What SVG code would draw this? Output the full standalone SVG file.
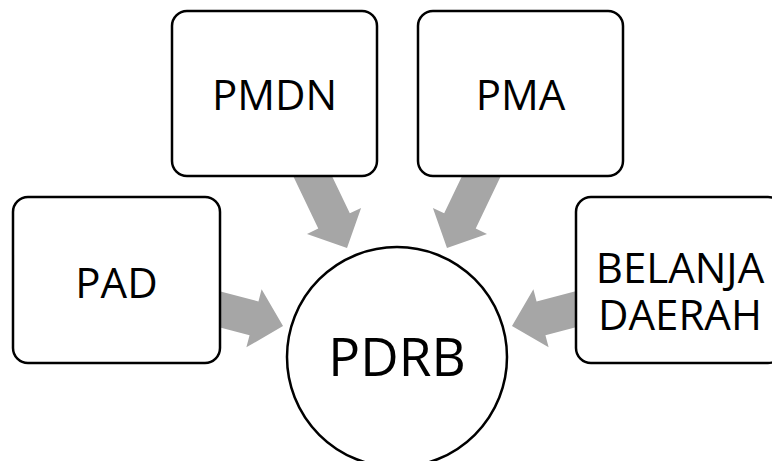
<svg xmlns="http://www.w3.org/2000/svg" width="772" height="461" viewBox="0 0 772 461">
<style>
.box{fill:#fff;stroke:#000;stroke-width:2.5}
.arr{fill:#A6A6A6}
text{font-family:"Open Sans","Noto Sans",sans-serif;fill:#000;text-anchor:middle}
.t{font-size:42px}
.big{font-size:53px}
</style>
<defs>
<path id="a85" d="M0,-17.5 L55,-17.5 L55,-30 L85,0 L55,30 L55,17.5 L0,17.5 Z"/>
<path id="a100" d="M0,-17.5 L70,-17.5 L70,-30 L100,0 L70,30 L70,17.5 L0,17.5 Z"/>
</defs>
<rect width="772" height="461" fill="#fff"/>
<g id="connectors" class="arr">
<use href="#a100" transform="translate(303.8,157.8) rotate(64.4)"/>
<use href="#a100" transform="translate(490.2,157.8) rotate(115.6)"/>
<use href="#a85" transform="translate(200.8,304.4) rotate(14.7)"/>
<use href="#a85" transform="translate(594.2,304.4) rotate(165.3)"/>
</g>
<g id="pmdn"><rect class="box" x="172" y="11" width="205" height="165" rx="15"/><text class="t" x="274.5" y="110">PMDN</text></g>
<g id="pma"><rect class="box" x="418" y="11" width="205" height="165" rx="15"/><text class="t" x="520.5" y="110">PMA</text></g>
<g id="pad"><rect class="box" x="13" y="197" width="207" height="166" rx="15"/><text class="t" x="116.5" y="298">PAD</text></g>
<g id="belanja"><rect class="box" x="576" y="197" width="207" height="166" rx="15"/><text class="t"><tspan x="680" y="283">BELANJA</tspan><tspan x="680" y="330">DAERAH</tspan></text></g>
<g id="pdrb"><circle class="box" cx="397" cy="357" r="110"/><text class="big" x="397" y="376">PDRB</text></g>
</svg>
